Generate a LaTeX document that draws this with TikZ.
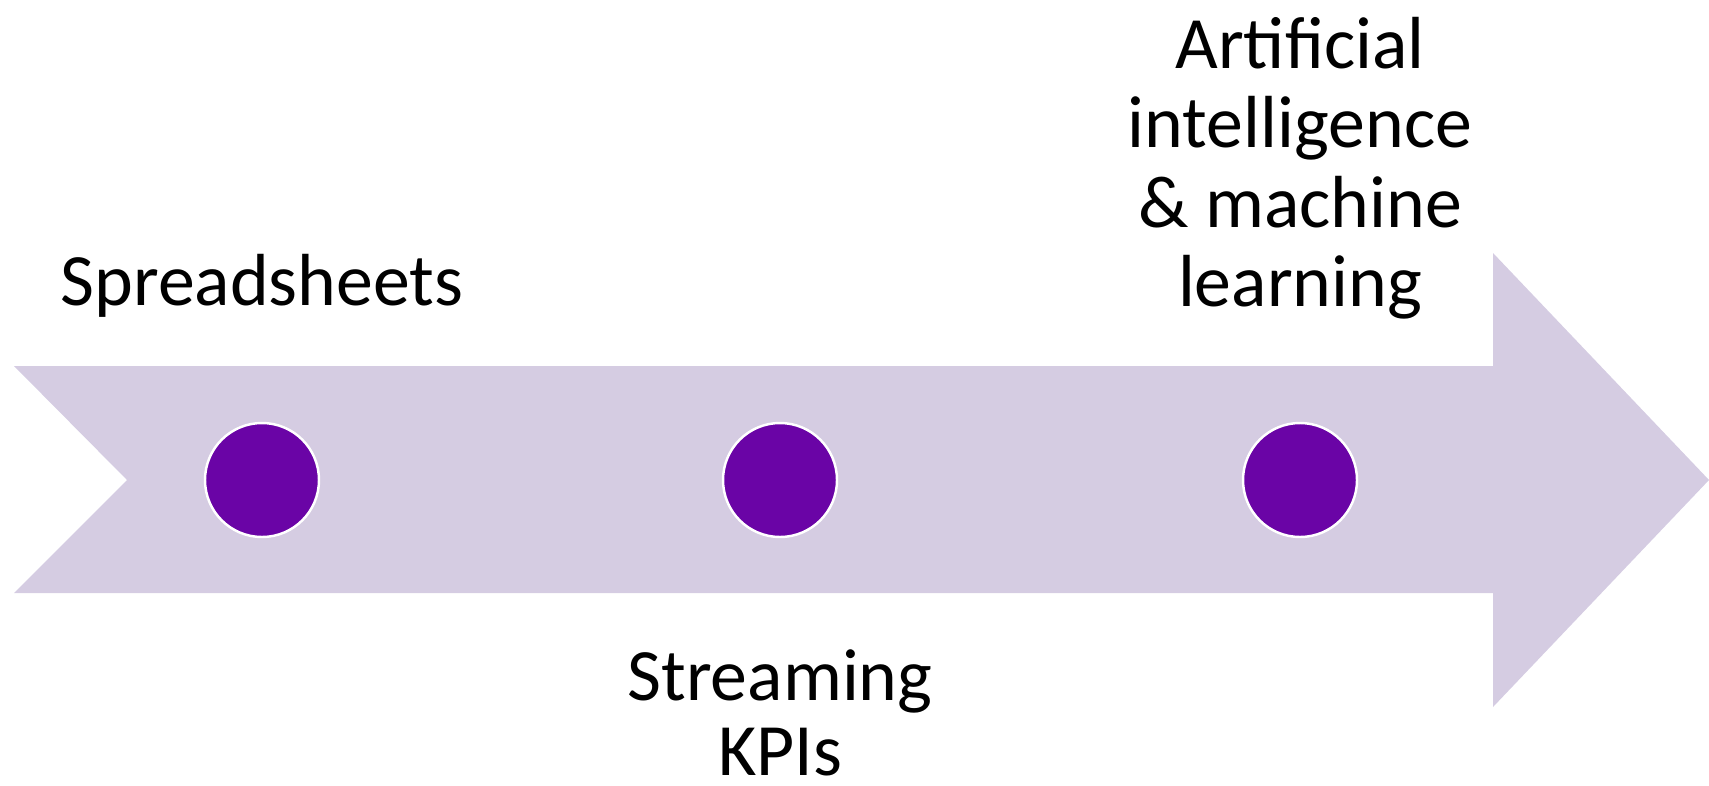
\documentclass[tikz,border=0pt]{standalone}
\usepackage{fontspec}
\setmainfont{Carlito}
\usepackage{tikz}

\definecolor{lavender}{RGB}{213,204,226}
\definecolor{plum}{RGB}{106,4,166}

\begin{document}
\begin{tikzpicture}[font=\fontsize{21}{22.6}\selectfont]
				\tikzstyle{dot}=[circle,fill=plum,draw=white,line width=0.7pt,minimum size=1.14cm,inner sep=0pt]
				\tikzstyle{label}=[align=center,inner sep=0pt,text=black]
				
				\useasboundingbox (0,0) rectangle (17.09,-7.85);
				
				% the big arrow
				\fill[lavender] (0.14,-3.66) -- (14.93,-3.66) -- (14.93,-2.53) -- (17.09,-4.80)
				      -- (14.93,-7.07) -- (14.93,-5.93) -- (0.14,-5.93) -- (1.27,-4.80) -- cycle;
				
				\node[dot] at (2.62, -4.80)  (D1) {};
				\node[dot] at (7.80, -4.80)  (D2) {};
				\node[dot] at (13.00, -4.80) (D3) {};
				
				\node[label, anchor=base]  at (2.62, -3.05)  (spread) {Spreadsheets};
				\node[label, anchor=north, font=\fontsize{21}{21.3}\selectfont] at (7.80, -6.49)  (stream) {Streaming\\KPIs};
				\node[label, anchor=south] at (13.00, -3.20) (ai) {Artificial\\intelligence\\\& machine\\learning};
		  \end{tikzpicture}
\end{document}
